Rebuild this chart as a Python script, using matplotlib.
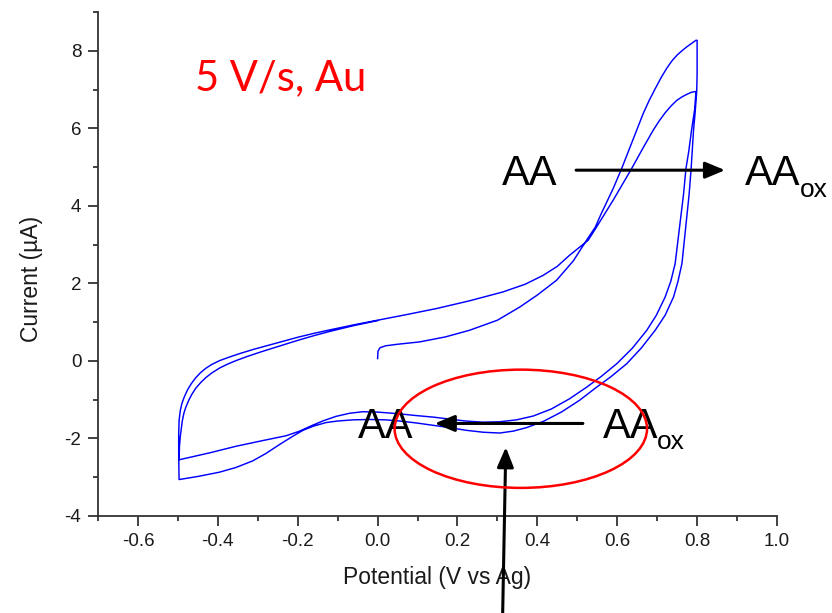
import numpy as np
import matplotlib
matplotlib.use('Agg')
import matplotlib.pyplot as plt
from matplotlib.patches import Ellipse
from matplotlib.ticker import MultipleLocator

# cyclic voltammogram, 5 V/s on Au, potential (V vs Ag) / current (uA)
# first forward sweep, starting at 0 V
fwd1_v = [0.000, 0.001, 0.006, 0.020, 0.050, 0.105, 0.170, 0.230, 0.300, 0.356, 0.400, 0.448,
          0.490, 0.523, 0.545, 0.560, 0.590, 0.611, 0.625, 0.640, 0.652, 0.665, 0.680, 0.695,
          0.710, 0.724, 0.737, 0.750, 0.762, 0.774, 0.786, 0.797]
fwd1_i = [0.06, 0.25, 0.34, 0.39, 0.43, 0.49, 0.62, 0.79, 1.05, 1.39, 1.70, 2.08,
          2.58, 3.11, 3.45, 3.80, 4.45, 4.96, 5.33, 5.72, 6.05, 6.38, 6.72, 7.02,
          7.31, 7.55, 7.74, 7.89, 8.00, 8.10, 8.19, 8.27]

# first reverse sweep
rev1_v = [0.800, 0.800, 0.799, 0.795, 0.791, 0.785, 0.780, 0.774, 0.768, 0.762, 0.752, 0.741,
          0.720, 0.695, 0.660, 0.624, 0.585, 0.548, 0.505, 0.460, 0.415, 0.373, 0.340, 0.306,
          0.265, 0.222, 0.180, 0.139, 0.097, 0.055, 0.020, -0.020, -0.062, -0.100, -0.129,
          -0.160, -0.187, -0.215, -0.246, -0.280, -0.313, -0.355, -0.396, -0.450, -0.497]
rev1_i = [8.27, 7.40, 6.95, 6.40, 5.95, 4.96, 4.30, 3.71, 3.10, 2.51, 2.05, 1.65,
          1.18, 0.79, 0.33, -0.07, -0.40, -0.68, -1.02, -1.32, -1.56, -1.72, -1.81, -1.86,
          -1.84, -1.79, -1.72, -1.66, -1.60, -1.55, -1.52, -1.51, -1.52, -1.55, -1.59,
          -1.68, -1.79, -1.96, -2.16, -2.39, -2.58, -2.75, -2.87, -2.98, -3.06]

# second forward sweep
fwd2_v = [-0.497, -0.498, -0.498, -0.497, -0.494, -0.490, -0.484, -0.476, -0.466, -0.455,
          -0.443, -0.430, -0.415, -0.395, -0.371, -0.345, -0.310, -0.271, -0.235, -0.200,
          -0.160, -0.120, -0.060, 0.000, 0.070, 0.147, 0.230, 0.314, 0.370, 0.415, 0.450,
          0.480, 0.527, 0.545, 0.590, 0.636, 0.665, 0.690, 0.705, 0.720, 0.735, 0.749, 0.762,
          0.775, 0.786, 0.797]
fwd2_i = [-3.06, -2.40, -1.90, -1.54, -1.28, -1.10, -0.93, -0.75, -0.58, -0.43,
          -0.30, -0.19, -0.09, 0.01, 0.10, 0.19, 0.30, 0.41, 0.51, 0.61,
          0.71, 0.80, 0.93, 1.05, 1.19, 1.35, 1.55, 1.78, 1.98, 2.21, 2.44,
          2.72, 3.11, 3.40, 4.15, 4.96, 5.50, 5.95, 6.19, 6.40, 6.58, 6.72, 6.81,
          6.88, 6.93, 6.95]

# second reverse sweep
rev2_v = [0.797, 0.794, 0.786, 0.779, 0.772, 0.766, 0.759, 0.752, 0.745, 0.734, 0.720, 0.698,
          0.674, 0.638, 0.599, 0.560, 0.523, 0.480, 0.435, 0.390, 0.348, 0.305, 0.264, 0.220,
          0.180, 0.140, 0.097, 0.050, 0.000, -0.037, -0.070, -0.104, -0.135, -0.163, -0.195,
          -0.229, -0.290, -0.354, -0.420, -0.497]
rev2_i = [6.95, 6.50, 5.95, 5.40, 4.96, 4.30, 3.71, 3.10, 2.51, 2.05, 1.65, 1.18,
          0.79, 0.33, -0.07, -0.40, -0.68, -0.98, -1.24, -1.42, -1.52, -1.57, -1.58, -1.55,
          -1.50, -1.45, -1.41, -1.36, -1.32, -1.31, -1.35, -1.43, -1.54, -1.66, -1.81,
          -1.93, -2.06, -2.20, -2.37, -2.55]

# last forward sweep back to 0 V
fwd3_v = [-0.497, -0.496, -0.494, -0.492, -0.489, -0.485, -0.480, -0.473, -0.465, -0.455,
          -0.443, -0.430, -0.415, -0.395, -0.375, -0.354, -0.325, -0.290, -0.250, -0.200,
          -0.160, -0.120, -0.060, 0.000]
fwd3_i = [-2.55, -2.20, -1.95, -1.79, -1.55, -1.35, -1.19, -1.02, -0.86, -0.70,
          -0.56, -0.43, -0.31, -0.18, -0.08, 0.01, 0.12, 0.24, 0.37, 0.53,
          0.65, 0.76, 0.91, 1.04]

potential = np.concatenate([fwd1_v, rev1_v, fwd2_v, rev2_v, fwd3_v])
current = np.concatenate([fwd1_i, rev1_i, fwd2_i, rev2_i, fwd3_i])

fig = plt.figure(figsize=(8.32, 6.13), dpi=100)
ax = fig.add_axes([98 / 832, 97 / 613, 679 / 832, 504 / 613])

ax.plot(potential, current, color='#0000ff', lw=1.05, solid_joinstyle='round')

ax.set_xlim(-0.7, 1.0)
ax.set_ylim(-4, 9)
ax.xaxis.set_minor_locator(MultipleLocator(0.1))
ax.yaxis.set_minor_locator(MultipleLocator(1))
ax.set_xticks([-0.6, -0.4, -0.2, 0.0, 0.2, 0.4, 0.6, 0.8, 1.0])
ax.set_xticklabels(['-0.6', '-0.4', '-0.2', '0.0', '0.2', '0.4', '0.6', '0.8', '1.0'])
ax.set_yticks([-4, -2, 0, 2, 4, 6, 8])
ax.set_yticklabels(['-4', '-2', '0', '2', '4', '6', '8'])

for side in ['top', 'right']:
    ax.spines[side].set_visible(False)
for side in ['left', 'bottom']:
    ax.spines[side].set_color('#333333')
    ax.spines[side].set_linewidth(1.3)

ax.tick_params(which='major', direction='out', length=7, width=1.3, color='#333333',
               labelsize=13.5, labelcolor='#1a1a1a', pad=5)
ax.tick_params(which='minor', direction='out', length=3.8, width=1.3, color='#333333')
for lab in ax.get_xticklabels() + ax.get_yticklabels():
    lab.set_family('Liberation Sans')

ax.set_xlabel('Potential (V vs Ag)', fontsize=16.5, family='Liberation Sans',
              color='#1a1a1a', labelpad=12)
ax.set_ylabel('Current (µA)', fontsize=16.5, family='Liberation Sans', color='#1a1a1a')
ax.yaxis.set_label_coords(-0.081, 0.47)

# annotations
arrow_props = dict(arrowstyle='-|>,head_length=0.6,head_width=0.25', lw=2.2,
                   color='black', mutation_scale=20, shrinkA=0, shrinkB=0)

ax.text(-0.456, 6.98, '5 V/s, Au', color='red', fontsize=30, family='Lato')

ax.text(0.311, 4.53, 'AA', fontsize=30, family='Liberation Sans', clip_on=False)
ax.text(0.920, 4.53, 'AA', fontsize=30, family='Liberation Sans', clip_on=False)
ax.text(1.058, 4.22, 'ox', fontsize=19, family='Liberation Sans', clip_on=False)
ax.annotate('', xy=(0.870, 4.92), xytext=(0.497, 4.92), annotation_clip=False,
            arrowprops=arrow_props)

ax.text(-0.050, -2.0, 'AA', fontsize=30, family='Liberation Sans', clip_on=False)
ax.text(0.564, -2.0, 'AA', fontsize=30, family='Liberation Sans', clip_on=False)
ax.text(0.700, -2.284, 'ox', fontsize=19, family='Liberation Sans', clip_on=False)
ax.annotate('', xy=(0.143, -1.613), xytext=(0.514, -1.613), annotation_clip=False,
            arrowprops=arrow_props)

ax.annotate('', xy=(0.321, -2.225), xytext=(0.313, -6.6), annotation_clip=False,
            arrowprops=arrow_props)

ax.add_patch(Ellipse((0.3586, -1.75), 0.632, 3.05, fill=False, edgecolor='red',
                     lw=1.8, zorder=5, clip_on=False))

fig.savefig('out.png', dpi=100)
